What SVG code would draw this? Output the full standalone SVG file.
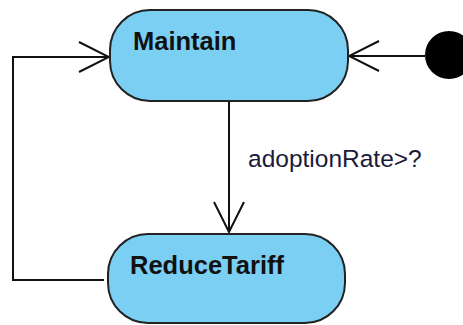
<svg xmlns="http://www.w3.org/2000/svg" width="463" height="325" viewBox="0 0 463 325">
<style>
.state{fill:#7acff3;stroke:#222;stroke-width:2}
.name{font-family:"Liberation Sans",Arial,sans-serif;font-weight:bold;font-size:25.5px;fill:#111}
.lbl{font-family:"Liberation Sans",Arial,sans-serif;font-size:24.5px;fill:#1a1a3a}
.conn{fill:none;stroke:#111;stroke-width:2}
</style>
<defs>
<marker id="open" viewBox="0 0 34 34" refX="32" refY="17" markerWidth="34" markerHeight="34" markerUnits="userSpaceOnUse" orient="auto">
<path d="M2,2 L32,17 L2,32" fill="none" stroke="#111" stroke-width="2"/>
</marker>
</defs>
<g id="connectors">
<path class="conn" d="M229,101 L229,232" marker-end="url(#open)"/>
<path class="conn" d="M104,280 L13,280 L13,57 L109,57" marker-end="url(#open)"/>
<path class="conn" d="M425,56 L349,56" marker-end="url(#open)"/>
<text class="lbl" x="248" y="167">adoptionRate&gt;?</text>
</g>
<g id="initial">
<circle cx="449" cy="55" r="24" fill="#000"/>
</g>
<g id="Maintain">
<rect class="state" x="110" y="10" width="238" height="91" rx="40" ry="40"/>
<text class="name" x="133" y="50">Maintain</text>
</g>
<g id="ReduceTariff">
<rect class="state" x="108" y="234" width="237" height="89" rx="40" ry="40"/>
<text class="name" x="130" y="274">ReduceTariff</text>
</g>
</svg>
